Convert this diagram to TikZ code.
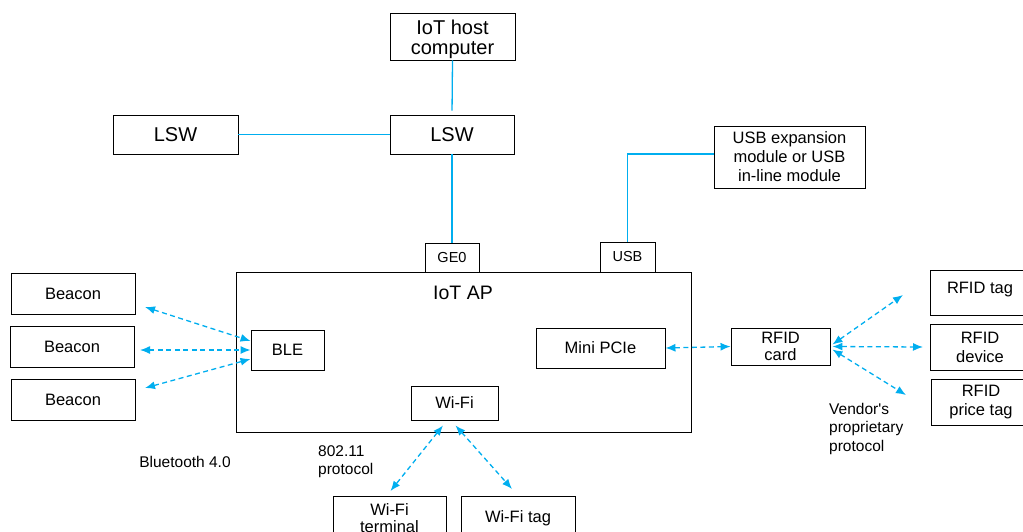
\documentclass[tikz,border=0pt]{standalone}
\usepackage{fontspec}
\setmainfont{Liberation Sans}
\usetikzlibrary{arrows.meta,calc}
\definecolor{linkblue}{RGB}{0,174,239}
\tikzset{
  box/.style={draw, line width=0.9pt, align=center, inner sep=0pt, font=\fontsize{16.5}{18}\selectfont},
  bigbox/.style={box, font=\fontsize{20}{20}\selectfont},
  smallbox/.style={box, font=\fontsize{14.5}{16}\selectfont},
  lbl/.style={align=left, inner sep=0pt, font=\fontsize{15.5}{18.5}\selectfont},
  link/.style={draw=linkblue, line width=1.3pt},
  wireless/.style={draw=linkblue, line width=1.3pt, dash pattern=on 5pt off 3.5pt,
    {Latex[length=10pt,width=8pt]}-{Latex[length=10pt,width=8pt]}}
}
\begin{document}
\begin{tikzpicture}[x=1pt,y=-1pt]
\useasboundingbox (0,0) rectangle (1023,531);
\clip (0,0) rectangle (1023,531);
% top
\node[bigbox, minimum width=125pt, minimum height=47pt, text height=41pt] (host) at (452.5,36.5) {IoT host\\computer};
\node[bigbox, minimum width=124pt, minimum height=39pt] (lswR) at (452,134.5) {LSW};
\node[bigbox, minimum width=125pt, minimum height=39pt] (lswL) at (175.5,134.5) {LSW};
\node[box, minimum width=151pt, minimum height=62pt, font=\fontsize{16.5}{19}\selectfont] (usbmod) at (789.5,157) {USB expansion\\module or USB\\in-line module};
% AP
\node[box, minimum width=455pt, minimum height=160pt] (ap) at (463.5,352) {};
\node[inner sep=0pt, font=\fontsize{19.5}{20}\selectfont] (aplabel) at (463,293) {IoT AP};
\node[smallbox, minimum width=54pt, minimum height=29pt] (ge0) at (452,257.5) {GE0};
\node[smallbox, minimum width=55pt, minimum height=30pt] (usb) at (627.5,257) {USB};
\node[box, minimum width=73pt, minimum height=40pt] (ble) at (287.5,350) {BLE};
\node[box, minimum width=129pt, minimum height=40pt] (pcie) at (600.5,348) {Mini PCIe};
\node[box, minimum width=87pt, minimum height=34pt] (wifi) at (454.5,403) {Wi-Fi};
% beacons
\node[box, minimum width=124pt, minimum height=41pt] (b1) at (73,293.5) {Beacon};
\node[box, minimum width=124pt, minimum height=41pt] (b2) at (72,346.5) {Beacon};
\node[box, minimum width=124pt, minimum height=41pt] (b3) at (73,399.5) {Beacon};
\node[lbl] (bt) at (185,462) {Bluetooth 4.0};
% wifi clients
\node[lbl, anchor=north west] (proto) at (318,445) {802.11\\protocol};
\node[box, minimum width=113pt, minimum height=45pt, font=\fontsize{16.5}{17}\selectfont] (wterm) at (389.5,518.5) {Wi-Fi\\terminal};
\node[box, minimum width=114pt, minimum height=45pt] (wtag) at (518,518.5) {Wi-Fi tag};
% RFID
\node[box, minimum width=99pt, minimum height=37pt, font=\fontsize{16.5}{17.5}\selectfont] (rcard) at (780.5,346.5) {RFID\\card};
\node[box, minimum width=100pt, minimum height=45pt, text depth=9pt] (rtag) at (980,292.5) {RFID tag};
\node[box, minimum width=100pt, minimum height=46pt, font=\fontsize{16.5}{19}\selectfont] (rdev) at (980,347) {RFID\\device};
\node[box, minimum width=100pt, minimum height=46pt, font=\fontsize{16.5}{19}\selectfont] (rprice) at (981,402) {RFID\\price tag};
\node[lbl, anchor=north west] (vendor) at (829,403) {Vendor\textquotesingle s\\proprietary\\protocol};
% wired links
\draw[link, shorten >=4pt] (host.south) -- (lswR.north);
\draw[link] (lswL.east) -- (lswR.west);
\draw[link] (lswR.south) -- (ge0.north);
\coordinate (usbturn) at (627.5,154);
\draw[link] (usb.north) -- (usbturn) -- (usbturn -| usbmod.west);
% wireless free ends
\coordinate (e1) at (145,307);
\coordinate (e2) at (140,350);
\coordinate (e3) at (145,388);
\coordinate (w1) at (390.5,491);
\coordinate (w2) at (512,489);
\coordinate (r1) at (903,295);
\coordinate (r2) at (923,347);
\coordinate (r3) at (906,395);
\draw[wireless] (e1) -- ($(ble.west)+(0,-9)$);
\draw[wireless] (e2) -- (ble.west);
\draw[wireless] (e3) -- ($(ble.west)+(0,9)$);
\draw[wireless] (pcie.east) -- (rcard.west);
\draw[wireless] ($(rcard.east)+(2,-2)$) -- (r1);
\draw[wireless] ($(rcard.east)+(2,0)$) -- (r2);
\draw[wireless] ($(rcard.east)+(2,3)$) -- (r3);
\draw[wireless] ($(wifi.south)+(-11.5,5)$) -- (w1);
\draw[wireless] ($(wifi.south)+(1,5)$) -- (w2);
\end{tikzpicture}
\end{document}
